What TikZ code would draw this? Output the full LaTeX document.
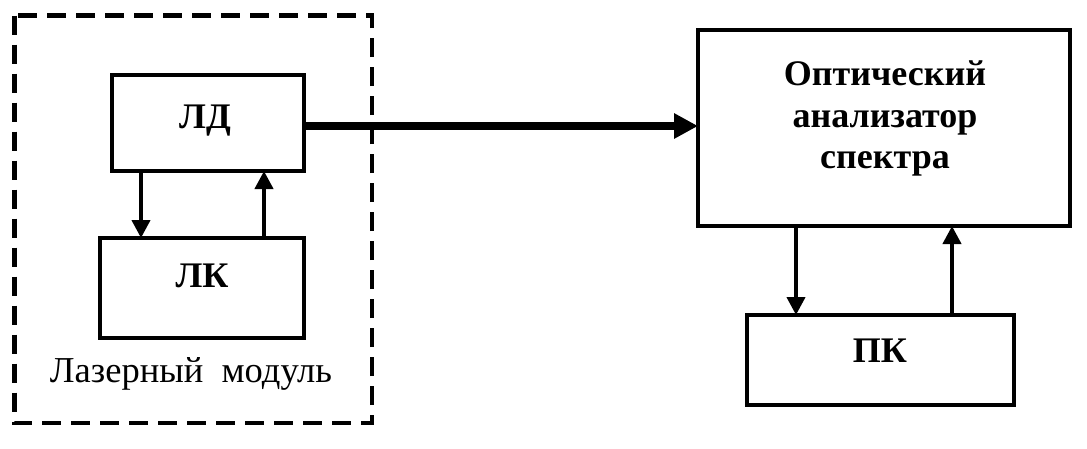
\documentclass[tikz,border=0pt]{standalone}
\usepackage{fontspec}
\setmainfont{Liberation Serif}
\usetikzlibrary{arrows.meta,calc}
\begin{document}
\begin{tikzpicture}[x=1pt,y=-1pt,
  box/.style={draw,line width=4pt,inner sep=0pt,outer sep=0pt,rectangle},
  lbl/.style={anchor=base,inner sep=0pt,font=\fontsize{36}{42}\selectfont\bfseries},
  arr/.style={line width=4pt,-{Triangle[length=18pt,width=18pt]}},
  thick arr/.style={line width=7.5pt,-{Triangle[length=24pt,width=24pt]}}]
\useasboundingbox (0,0) rectangle (1087,448);
% dashed frame
\draw[line width=4.5pt,dash pattern=on 19pt off 10pt] (14.5,15.5) rectangle (372,423);
% boxes
\node[box,minimum width=192pt,minimum height=96pt] (ld) at (208,123) {};
\node[box,minimum width=204pt,minimum height=100pt] (lk) at (202,288) {};
\node[box,minimum width=372pt,minimum height=196pt] (opt) at (884,128) {};
\node[box,minimum width=267pt,minimum height=90pt] (pk) at (880.5,360) {};
% labels
\node[lbl] (tld) at (205,128) {ЛД};
\node[lbl] (tlk) at (202,287) {ЛК};
\node[lbl] (to1) at (885,85) {Оптический};
\node[lbl] (to2) at (885,127) {анализатор};
\node[lbl] (to3) at (885,168) {спектра};
\node[lbl] (tpk) at (880,362) {ПК};
\node[anchor=base,inner sep=0pt,font=\fontsize{36.5}{42}\selectfont] (tmod) at (191,382) {Лазерный\ \ модуль};
% connectors
\coordinate (a1) at (141,0);
\coordinate (a2) at (264,0);
\coordinate (a3) at (796,0);
\coordinate (a4) at (952,0);
\coordinate (a5) at (0,126);
\draw[arr] (a1 |- ld.south) -- (a1 |- lk.north);
\draw[arr] (a2 |- lk.north) -- (a2 |- ld.south);
\draw[arr] (a3 |- opt.south) -- (a3 |- pk.north);
\draw[arr] (a4 |- pk.north) -- (a4 |- opt.south);
\draw[thick arr] (ld.east |- a5) -- (opt.west |- a5);
\end{tikzpicture}
\end{document}
